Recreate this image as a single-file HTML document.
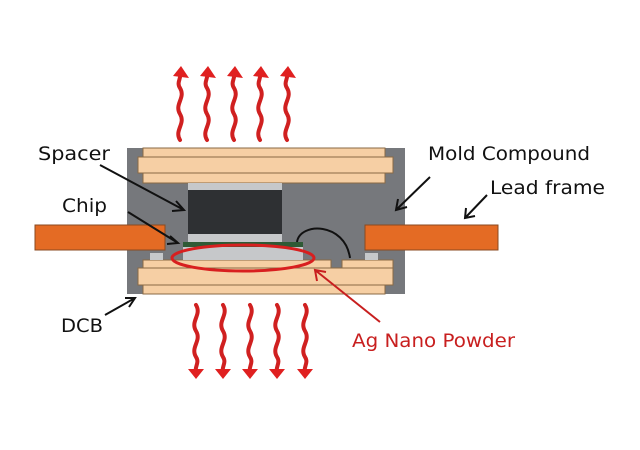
<!DOCTYPE html>
<html><head><style>body{margin:0;background:#fff}svg{display:block}</style></head><body>
<svg width="640" height="450" viewBox="0 0 640 450" xmlns="http://www.w3.org/2000/svg" font-family="DejaVu Sans, sans-serif">
<defs>
<g id="wu"><path d="M0,72 C-6,62 6,56 0,46 C-6,36 6,30 0,20 C-4,14 2,10 0,4" fill="none" stroke="#d02020" stroke-width="4" stroke-linecap="round"/><path d="M-7,8 L1,-2 L9,10 Z" fill="#e02020"/></g>
<g id="wd"><path d="M0,0 C6,10 -6,16 0,26 C6,36 -6,42 0,52 C4,58 -2,62 0,68" fill="none" stroke="#d02020" stroke-width="4" stroke-linecap="round"/><path d="M-8,64 L0,74 L8,64 Z" fill="#e02020"/></g>
</defs>
<use href="#wu" x="180" y="68"/><use href="#wu" x="207" y="68"/><use href="#wu" x="234" y="68"/><use href="#wu" x="260" y="68"/><use href="#wu" x="287" y="68"/>
<use href="#wd" x="196" y="305"/><use href="#wd" x="223" y="305"/><use href="#wd" x="250" y="305"/><use href="#wd" x="277" y="305"/><use href="#wd" x="305" y="305"/>
<rect x="127" y="148" width="278" height="146" fill="#76787c"/>
<g stroke="#8a6a45" stroke-width="1">
<rect x="143" y="148" width="242" height="9" fill="#f6cfa4"/>
<rect x="138" y="157" width="255" height="16" fill="#f6cfa4"/>
<rect x="143" y="173" width="242" height="10" fill="#f6cfa4"/>
<rect x="143" y="260" width="188" height="8" fill="#f6cfa4"/>
<rect x="342" y="260" width="51" height="8" fill="#f6cfa4"/>
<rect x="138" y="268" width="255" height="17" fill="#f6cfa4"/>
<rect x="143" y="285" width="242" height="9" fill="#f6cfa4"/>
</g>
<rect x="188" y="183" width="94" height="7" fill="#c6c8ca"/>
<rect x="188" y="190" width="94" height="44" fill="#2e3033"/>
<rect x="188" y="234" width="94" height="8" fill="#c6c8ca"/>
<rect x="183" y="242" width="120" height="5" fill="#2f5a35"/>
<rect x="183" y="247" width="120" height="13" fill="#c6c8ca"/>
<rect x="150" y="253" width="13" height="7" fill="#c6c8ca"/>
<rect x="365" y="253" width="13" height="7" fill="#c6c8ca"/>
<rect x="35" y="225" width="130" height="25" fill="#e46b24" stroke="#8a4a20"/>
<rect x="365" y="225" width="133" height="25" fill="#e46b24" stroke="#8a4a20"/>
<path d="M297,242 C300,222 345,222 350,258" fill="none" stroke="#111" stroke-width="2"/>
<ellipse cx="243" cy="258" rx="71" ry="13" fill="none" stroke="#d81f1f" stroke-width="3"/>
<g stroke="#111" stroke-width="2" fill="none">
<path d="M100,165 L184,210 M176,201 L184,210 L172,211"/>
<path d="M128,212 L178,243 M170,236 L178,243 L167,244"/>
<path d="M430,177 L396,210 M398,199 L396,210 L407,207"/>
<path d="M487,195 L465,218 M466,208 L465,218 L475,216"/>
<path d="M105,315 L135,298 M125,298 L135,298 L129,307"/>
</g>
<g stroke="#c81f1f" stroke-width="2" fill="none"><path d="M380,322 L315,270 M317,281 L315,270 L326,272"/></g>
<g font-size="19" fill="#111">
<text x="38" y="160" textLength="72" lengthAdjust="spacingAndGlyphs">Spacer</text>
<text x="62" y="212" textLength="45" lengthAdjust="spacingAndGlyphs">Chip</text>
<text x="428" y="160" textLength="162" lengthAdjust="spacingAndGlyphs">Mold Compound</text>
<text x="490" y="194" textLength="115" lengthAdjust="spacingAndGlyphs">Lead frame</text>
<text x="61" y="332" textLength="42" lengthAdjust="spacingAndGlyphs">DCB</text>
</g>
<text x="352" y="347" font-size="19" fill="#c81f1f" textLength="163" lengthAdjust="spacingAndGlyphs">Ag Nano Powder</text>
</svg>
</body></html>
